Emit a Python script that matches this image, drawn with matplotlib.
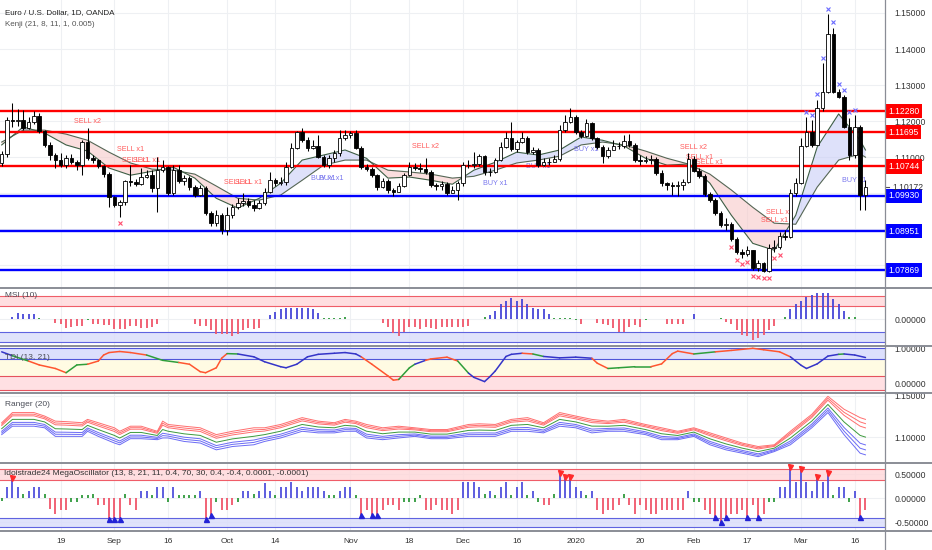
import matplotlib
matplotlib.use("Agg")
import matplotlib.pyplot as plt
import matplotlib.transforms as mtransforms
from matplotlib.lines import Line2D
import numpy as np
import pandas as pd

plt.rcParams["font.family"] = ["Liberation Sans", "DejaVu Sans"]

# ---------------- data (EUR/USD daily) ----------------
first_open = 1.1084
close = [
    1.1109, 1.1203, 1.1200, 1.1203, 1.1181, 1.1197, 1.1214, 1.1172, 1.1134, 1.1106,
    1.1092, 1.1078, 1.1097, 1.1086, 1.1078, 1.1142, 1.1097, 1.1092, 1.1075, 1.1053,
    1.0989, 1.0967, 1.0975, 1.1034, 1.1031, 1.1025, 1.1045, 1.1050, 1.1014, 1.1064,
    1.1072, 1.1000, 1.1064, 1.1034, 1.1042, 1.1017, 1.0995, 1.1014, 1.0945, 1.0917,
    1.0939, 1.0897, 1.0939, 1.0961, 1.0972, 1.0978, 1.0967, 1.0959, 1.0972, 1.1003,
    1.1036, 1.1028, 1.1031, 1.1072, 1.1125, 1.1170, 1.1147, 1.1125, 1.1131, 1.1100,
    1.1078, 1.1097, 1.1111, 1.1153, 1.1161, 1.1167, 1.1125, 1.1072, 1.1067, 1.1050,
    1.1017, 1.1034, 1.1009, 1.1003, 1.1020, 1.1050, 1.1072, 1.1070, 1.1067, 1.1059,
    1.1022, 1.1020, 1.1025, 1.1000, 1.1009, 1.1028, 1.1078, 1.1078, 1.1081, 1.1103,
    1.1059, 1.1059, 1.1092, 1.1128, 1.1153, 1.1122, 1.1142, 1.1153, 1.1114, 1.1120,
    1.1078, 1.1086, 1.1086, 1.1095, 1.1175, 1.1197, 1.1211, 1.1170, 1.1159, 1.1195,
    1.1153, 1.1128, 1.1103, 1.1120, 1.1131, 1.1131, 1.1145, 1.1134, 1.1092, 1.1089,
    1.1092, 1.1095, 1.1056, 1.1028, 1.1022, 1.1020, 1.1022, 1.1031, 1.1095, 1.1061,
    1.1047, 1.0997, 1.0981, 1.0945, 1.0911, 1.0914, 1.0872, 1.0836, 1.0831, 1.0842,
    1.0792, 1.0806, 1.0784, 1.0847, 1.0850, 1.0881, 1.0878, 1.1000, 1.1028, 1.1131,
    1.1170, 1.1134, 1.1236, 1.1281, 1.1442, 1.1281, 1.1267, 1.1184, 1.1106, 1.1184,
    1.0995, 1.1017,
]
high = [
    1.1117, 1.1211, 1.1250, 1.1234, 1.1231, 1.1211, 1.1228, 1.1222, 1.1175, 1.1142,
    1.1111, 1.1111, 1.1106, 1.1109, 1.1092, 1.1147, 1.1181, 1.1106, 1.1095, 1.1078,
    1.1059, 1.0992, 1.0981, 1.1036, 1.1078, 1.1039, 1.1070, 1.1064, 1.1064, 1.1100,
    1.1092, 1.1075, 1.1078, 1.1078, 1.1050, 1.1047, 1.1022, 1.1022, 1.1020, 1.0950,
    1.0953, 1.0945, 1.0961, 1.0970, 1.0986, 1.1000, 1.0986, 1.0981, 1.0981, 1.1014,
    1.1059, 1.1042, 1.1045, 1.1086, 1.1139, 1.1172, 1.1181, 1.1156, 1.1147, 1.1161,
    1.1106, 1.1106, 1.1120, 1.1175, 1.1175, 1.1172, 1.1175, 1.1131, 1.1081, 1.1072,
    1.1053, 1.1042, 1.1039, 1.1014, 1.1028, 1.1056, 1.1086, 1.1084, 1.1084, 1.1097,
    1.1064, 1.1028, 1.1034, 1.1031, 1.1020, 1.1034, 1.1086, 1.1092, 1.1114, 1.1109,
    1.1106, 1.1070, 1.1097, 1.1142, 1.1170, 1.1197, 1.1147, 1.1170, 1.1159, 1.1128,
    1.1125, 1.1097, 1.1097, 1.1106, 1.1189, 1.1217, 1.1236, 1.1217, 1.1175, 1.1206,
    1.1197, 1.1156, 1.1134, 1.1128, 1.1147, 1.1142, 1.1161, 1.1164, 1.1139, 1.1106,
    1.1103, 1.1106, 1.1100, 1.1064, 1.1031, 1.1031, 1.1034, 1.1039, 1.1111, 1.1103,
    1.1070, 1.1053, 1.1003, 1.0986, 1.0950, 1.0931, 1.0920, 1.0878, 1.0845, 1.0853,
    1.0842, 1.0814, 1.0808, 1.0859, 1.0870, 1.0892, 1.0897, 1.1011, 1.1042, 1.1153,
    1.1211, 1.1203, 1.1259, 1.1361, 1.1497, 1.1459, 1.1289, 1.1272, 1.1209, 1.1217,
    1.1189, 1.1036,
]
low = [
    1.1075, 1.1100, 1.1184, 1.1186, 1.1175, 1.1178, 1.1192, 1.1167, 1.1128, 1.1092,
    1.1070, 1.1072, 1.1070, 1.1081, 1.1064, 1.1050, 1.1092, 1.1084, 1.1070, 1.1045,
    1.0961, 1.0961, 1.0933, 1.0967, 1.1020, 1.1020, 1.1022, 1.1042, 1.1003, 1.0947,
    1.1059, 1.0995, 1.0995, 1.1028, 1.1022, 1.1009, 1.0989, 1.0992, 1.0939, 1.0909,
    1.0909, 1.0886, 1.0884, 1.0931, 1.0956, 1.0964, 1.0961, 1.0950, 1.0956, 1.0967,
    1.1000, 1.1020, 1.1022, 1.1022, 1.1070, 1.1122, 1.1142, 1.1117, 1.1122, 1.1097,
    1.1072, 1.1070, 1.1086, 1.1103, 1.1147, 1.1153, 1.1122, 1.1067, 1.1061, 1.1045,
    1.1009, 1.1014, 1.1000, 1.0992, 1.1003, 1.1017, 1.1047, 1.1064, 1.1059, 1.1053,
    1.1017, 1.1009, 1.1009, 1.0995, 1.1000, 1.0981, 1.1020, 1.1070, 1.1070, 1.1075,
    1.1050, 1.1047, 1.1056, 1.1089, 1.1125, 1.1117, 1.1114, 1.1139, 1.1109, 1.1109,
    1.1072, 1.1075, 1.1078, 1.1086, 1.1089, 1.1170, 1.1195, 1.1164, 1.1153, 1.1156,
    1.1147, 1.1122, 1.1084, 1.1097, 1.1122, 1.1122, 1.1125, 1.1128, 1.1086, 1.1078,
    1.1084, 1.1081, 1.1050, 1.1020, 1.1009, 1.0995, 1.0992, 1.1009, 1.1028, 1.1059,
    1.1042, 1.0992, 1.0975, 1.0939, 1.0906, 1.0897, 1.0867, 1.0831, 1.0820, 1.0825,
    1.0786, 1.0784, 1.0781, 1.0781, 1.0836, 1.0845, 1.0870, 1.0875, 1.0992, 1.1025,
    1.1128, 1.1128, 1.1170, 1.1228, 1.1278, 1.1278, 1.1264, 1.1181, 1.1092, 1.1097,
    1.0953, 1.0953,
]
last_price = 1.10172

resist_levels = [1.12280, 1.11695, 1.10744]
support_levels = [1.09930, 1.08951, 1.07869]
price_ticks = [1.11, 1.12, 1.13, 1.14, 1.15]

# Kenji bands
kenji_bar = [0, 4, 8, 12, 16, 20, 24, 28, 32, 36, 40, 44, 48, 52, 56, 60, 64, 68, 72, 76, 80,
             84, 88, 92, 96, 100, 104, 108, 112, 116, 120, 124, 128, 132, 136, 140, 144, 148,
             152, 156, 160, 161]
kenji_slow = [1.1142, 1.1175, 1.1175, 1.1164, 1.1147, 1.1114, 1.1084, 1.1067, 1.1064, 1.1053,
              1.1020, 1.0986, 1.0981, 1.0995, 1.1036, 1.1078, 1.1092, 1.1092, 1.1064, 1.1059,
              1.1053, 1.1042, 1.1047, 1.1064, 1.1084, 1.1092, 1.1103, 1.1134, 1.1142, 1.1134,
              1.1117, 1.1097, 1.1081, 1.1053, 1.1009, 1.0961, 1.0917, 1.0914, 1.1017, 1.1092,
              1.1109, 1.1100]
kenji_fast = [1.1134, 1.1184, 1.1167, 1.1134, 1.1117, 1.1070, 1.1050, 1.1061, 1.1072, 1.1042,
              1.0986, 1.0959, 1.0986, 1.1028, 1.1092, 1.1106, 1.1120, 1.1097, 1.1042, 1.1045,
              1.1036, 1.1025, 1.1064, 1.1086, 1.1114, 1.1106, 1.1120, 1.1156, 1.1147, 1.1131,
              1.1097, 1.1078, 1.1081, 1.1028, 1.0939, 1.0861, 1.0842, 1.0939, 1.1128, 1.1220,
              1.1147, 1.1120]

# signal labels: (bar, price, text)
sell_labels = [(16, 1.1200, "SELL x2"), (24, 1.1122, "SELL x1"), (25, 1.1092, "SELL x1"),
               (27, 1.1092, "SELL x1"), (44, 1.1031, "SELL x1"), (46, 1.1031, "SELL x1"),
               (79, 1.1131, "SELL x2"), (129, 1.1128, "SELL x2"), (130, 1.1100, "SELL x1"),
               (132, 1.1084, "SELL x1"), (145, 1.0947, "SELL x1"), (144, 1.0925, "SELL x1")]
buy_labels = [(60, 1.1042, "BUY x1"), (61.5, 1.1042, "BUY x1"), (92, 1.1028, "BUY x1"),
              (100, 1.1075, "BUY x1"), (109, 1.1122, "BUY x1"), (159, 1.1036, "BUY x1")]
low_mark_bars = [22, 136, 137, 138, 139, 140, 141, 142, 143, 144, 145]
high_mark_bars = [150, 151, 152, 153, 154, 155, 156, 157, 158, 159]

# MSI (10)
msi = [
    0.02, 0.02, 0.12, 0.26, 0.22, 0.22, 0.22, 0.04, 0, 0,
    -0.17, -0.22, -0.39, -0.32, -0.28, -0.28, -0.03, -0.22, -0.22, -0.25,
    -0.25, -0.42, -0.42, -0.42, -0.28, -0.28, -0.39, -0.39, -0.32, -0.22,
    0, 0, 0, 0.03, 0.03, 0.03, -0.22, -0.28, -0.28, -0.46,
    -0.65, -0.65, -0.65, -0.71, -0.65, -0.46, -0.36, -0.42, -0.36, 0,
    0.19, 0.30, 0.45, 0.48, 0.48, 0.48, 0.48, 0.48, 0.45, 0.26,
    0.04, 0.04, 0.04, 0.04, 0.09, 0, 0.03, 0.03, 0, 0.03,
    0.03, -0.17, -0.32, -0.61, -0.75, -0.54, -0.32, -0.32, -0.43, -0.32,
    -0.39, -0.42, -0.32, -0.32, -0.32, -0.32, -0.32, -0.28, 0, 0,
    0.08, 0.19, 0.36, 0.65, 0.80, 0.91, 0.80, 0.87, 0.65, 0.48,
    0.43, 0.43, 0.22, 0.07, 0.05, 0.05, 0.06, -0.05, -0.22, 0,
    0.02, -0.17, -0.22, -0.25, -0.36, -0.54, -0.54, -0.32, -0.25, -0.32,
    -0.03, 0.03, 0, 0.02, -0.22, -0.22, -0.22, -0.22, 0, 0.22,
    0, 0, 0.03, 0.03, 0.04, -0.12, -0.22, -0.46, -0.68, -0.75,
    -0.90, -0.83, -0.68, -0.46, -0.28, 0, 0.09, 0.43, 0.65, 0.80,
    0.99, 1.06, 1.13, 1.13, 1.13, 0.87, 0.65, 0.36, 0.09, 0.09,
    0, 0,
]

# TDI (13, 21): points along the line and the colour of the segment that starts there
tdi_bar = [0, 2, 5, 7, 10, 12, 14, 16, 18, 19, 20, 22, 24, 27, 30, 33, 35, 37, 38, 40,
           41, 42, 44, 47, 49, 52, 53, 55, 57, 59, 62, 64, 66, 67, 69, 72, 73, 74, 76, 77,
           79, 80, 83, 85, 87, 88, 90, 91, 92, 94, 95, 97, 99, 101, 104, 107, 110, 111, 113, 115,
           118, 121, 123, 125, 126, 129, 133, 136, 140, 142, 145, 147, 149, 150, 152, 154, 156, 157, 159, 161]
tdi_val = [0.90, 0.79, 0.64, 0.53, 0.43, 0.31, 0.53, 0.55, 0.64, 0.81, 0.88, 0.91, 0.88, 0.81, 0.66,
           0.60, 0.55, 0.34, 0.31, 0.45, 0.72, 0.85, 0.84, 0.76, 0.62, 0.48, 0.45, 0.55, 0.76, 0.83,
           0.86, 0.88, 0.84, 0.76, 0.55, 0.22, 0.10, 0.12, 0.45, 0.55, 0.66, 0.70, 0.75, 0.64, 0.30,
           0.18, 0.06, 0.20, 0.36, 0.77, 0.83, 0.86, 0.84, 0.77, 0.73, 0.75, 0.72, 0.58, 0.43, 0.45,
           0.48, 0.48, 0.56, 0.85, 0.92, 0.84, 0.90, 0.94, 1.00, 0.96, 0.90, 0.76, 0.52, 0.43, 0.56,
           0.78, 0.83, 0.84, 0.81, 0.74]
tdi_col = "bgrrrggrrrrrrggrrrrrrgbbbbbbbbbbbrrrrggbrrrgbbbbbbbrgbbbrrgggrrrrgrrrrrbbbbbgbbb"

# Ranger (20): outer envelope of the line bundle
ranger_bar = [0, 2, 6, 8, 10, 12, 15, 16, 18, 21, 22, 24, 26, 29, 30, 31, 34, 37, 40, 43,
              47, 49, 52, 56, 59, 62, 64, 66, 68, 71, 74, 77, 80, 83, 87, 89, 92, 95, 98, 101,
              104, 107, 110, 113, 116, 120, 123, 126, 129, 132, 135, 138, 141, 144, 147, 151, 154, 157, 160, 161]
ranger_top = [1.1176, 1.1298, 1.1298, 1.1256, 1.1195, 1.1189, 1.1176, 1.1216, 1.1176, 1.1115,
              1.1073, 1.1134, 1.1134, 1.1073, 1.1195, 1.1155, 1.1134, 1.1115, 1.1033, 1.1073,
              1.1115, 1.1115, 1.1155, 1.1237, 1.1195, 1.1176, 1.1216, 1.1195, 1.1155, 1.1115,
              1.1134, 1.1115, 1.1094, 1.1094, 1.1155, 1.1163, 1.1155, 1.1216, 1.1237, 1.1176,
              1.1298, 1.1256, 1.1216, 1.1195, 1.1216, 1.1155, 1.1115, 1.1073, 1.1115, 1.1054,
              1.0993, 1.0932, 1.0890, 1.0911, 1.1073, 1.1277, 1.1493, 1.1338, 1.1237, 1.1216]
ranger_bot = [1.1033, 1.1134, 1.1134, 1.1115, 1.1012, 1.1012, 1.1012, 1.1073, 1.1012, 1.0932,
              1.0911, 1.0984, 1.0984, 1.0972, 1.0993, 1.0993, 1.0951, 1.0932, 1.0850, 1.0890,
              1.0911, 1.0951, 1.0993, 1.1073, 1.1054, 1.1054, 1.1073, 1.1073, 1.0993, 1.0972,
              1.0993, 1.1012, 1.0984, 1.0984, 1.1012, 1.1012, 1.1012, 1.1073, 1.1073, 1.1054,
              1.1134, 1.1115, 1.1054, 1.1073, 1.1073, 1.1033, 1.0972, 1.0972, 1.1012, 1.0911,
              1.0850, 1.0810, 1.0768, 1.0829, 1.0911, 1.1115, 1.1298, 1.1033, 1.0810, 1.0790]

# MegaOscillator
mega = [
    -0.06, 0.24, 0.42, 0.24, 0.09, 0.16, 0.24, 0.24, 0.09, -0.23,
    -0.33, -0.24, -0.24, -0.07, -0.07, 0.07, 0.07, 0.09, -0.14, -0.14,
    -0.44, -0.44, -0.44, 0.09, -0.14, -0.24, 0.16, 0.16, 0.07, 0.24,
    0.24, -0.07, 0.24, 0.07, 0.07, 0.07, 0.07, 0.16, -0.44, -0.35,
    -0.07, -0.24, -0.24, -0.14, -0.07, 0.16, 0.16, 0.09, 0.16, 0.31,
    0.16, 0.07, 0.24, 0.24, 0.33, 0.24, 0.16, 0.24, 0.24, 0.24,
    0.16, 0.07, 0.07, 0.16, 0.24, 0.24, 0.07, -0.35, -0.24, -0.35,
    -0.35, -0.24, -0.14, -0.14, -0.24, -0.07, -0.07, -0.07, 0.07, -0.24,
    -0.24, -0.14, -0.24, -0.24, -0.33, -0.24, 0.33, 0.33, 0.33, 0.24,
    0.09, 0.16, 0.07, 0.24, 0.33, 0.07, 0.24, 0.33, 0.07, 0.16,
    -0.07, -0.14, -0.14, 0.09, 0.52, 0.45, 0.45, 0.24, 0.16, 0.07,
    0.16, -0.24, -0.33, -0.24, -0.24, -0.14, 0.09, -0.14, -0.33, -0.14,
    -0.24, -0.33, -0.33, -0.24, -0.24, -0.24, -0.24, -0.24, 0.16, -0.07,
    -0.07, -0.24, -0.33, -0.38, -0.49, -0.38, -0.33, -0.33, -0.24, -0.38,
    -0.14, -0.38, -0.33, -0.07, -0.07, 0.24, 0.24, 0.66, 0.33, 0.60,
    0.33, 0.16, 0.45, 0.33, 0.52, 0.07, 0.24, 0.24, -0.07, 0.16,
    -0.38, -0.24,
]
mega_sell_bars = [2, 104, 105, 106, 147, 149, 152, 154]
mega_buy_bars = [20, 21, 22, 38, 39, 67, 69, 70, 133, 134, 135, 139, 141, 160]

tick_dates = ["2019-08-19", "2019-09-02", "2019-09-16", "2019-10-01", "2019-10-14",
              "2019-11-01", "2019-11-18", "2019-12-02", "2019-12-16", "2020-01-02",
              "2020-01-20", "2020-02-03", "2020-02-17", "2020-03-02", "2020-03-16"]
tick_labels = ["19", "Sep", "16", "Oct", "14", "Nov", "18", "Dec", "16", "2020",
               "20", "Feb", "17", "Mar", "16"]

# ---------------- layout ----------------
W, H = 932, 550
AXW = 885
dates = pd.bdate_range("2019-08-02", "2020-03-18")
dates = dates[~dates.isin(pd.to_datetime(["2019-12-25", "2020-01-01"]))]
x = np.arange(len(close))
tick_pos = [dates.get_loc(pd.Timestamp(d)) for d in tick_dates]
xlim = (-0.317, 164.64)

GRID = "#eef0f3"
TXT = "#4a4d57"
RED = "#ff0000"
BLUE = "#0000ff"

fig = plt.figure(figsize=(W / 100, H / 100), dpi=100)


def pane(top, bottom):
    ax = fig.add_axes([0, 1 - bottom / H, AXW / W, (bottom - top) / H])
    ax.set_xlim(*xlim)
    for s in ax.spines.values():
        s.set_visible(False)
    ax.set_xticks(tick_pos)
    ax.tick_params(axis="x", length=0, labelbottom=False)
    ax.yaxis.tick_right()
    ax.tick_params(axis="y", length=0, pad=7, labelsize=6.2, labelcolor="#333333")
    for t in tick_pos:
        ax.axvline(t, color=GRID, lw=0.8, zorder=0)
    return ax


def fmt(ax, ticks):
    ax.set_yticks(ticks)
    ax.set_yticklabels([f"{t:.5f}" for t in ticks])
    for t in ticks:
        ax.axhline(t, color=GRID, lw=0.8, zorder=0)


def hist_colors(vals, pos, neg, mid):
    return [mid if abs(v) < 0.1 else (pos if v > 0 else neg) for v in vals]


# ---------------- main price pane ----------------
ax = pane(0, 287)
ax.set_ylim(1.0740, 1.1536)
fmt(ax, price_ticks)
for t in [1.08, 1.09, 1.10]:
    ax.axhline(t, color=GRID, lw=0.8, zorder=0)

c = np.array(close)
o = np.array([first_open] + close[:-1])
hi = np.maximum(np.array(high), np.maximum(o, c))
lo = np.minimum(np.array(low), np.minimum(o, c))

kb = np.array(kenji_bar)
ks = np.array(kenji_slow)
kf = np.array(kenji_fast)
ax.fill_between(kb, ks, kf, where=kf >= ks, interpolate=True, color="#c9cdf7", alpha=0.6, lw=0, zorder=1)
ax.fill_between(kb, ks, kf, where=kf < ks, interpolate=True, color="#f7c9c9", alpha=0.6, lw=0, zorder=1)
ax.plot(kb, ks, color="#556655", lw=0.8, zorder=2)
ax.plot(kb, kf, color="#3e5e45", lw=0.8, zorder=2)

for lv in resist_levels:
    ax.axhline(lv, color=RED, lw=1.7, zorder=3)
for lv in support_levels:
    ax.axhline(lv, color=BLUE, lw=1.7, zorder=3)

for b, p, t in sell_labels:
    ax.text(b, p, t, color="#ff5a5a", fontsize=5.2, ha="center", va="center", zorder=2)
for b, p, t in buy_labels:
    ax.text(b, p, t, color="#7a78ee", fontsize=5.2, ha="center", va="center", zorder=2)
ax.plot(low_mark_bars, lo[low_mark_bars] - 0.0015, "x", color="#ff4d6d", ms=2.2, mew=0.8, zorder=4)
ax.plot(high_mark_bars, hi[high_mark_bars] + 0.0015, "x", color="#6a6aff", ms=2.2, mew=0.8, zorder=4)

ax.vlines(x, lo, hi, color="black", lw=0.75, zorder=5)
body_lo = np.minimum(o, c)
body_h = np.maximum(np.abs(c - o), 0.00009)
face = ["white" if cc >= oo else "black" for oo, cc in zip(o, c)]
ax.bar(x, body_h, bottom=body_lo, width=0.66, color=face, edgecolor="black", lw=0.6, zorder=6)

ax.text(0.006, 0.958, "Euro / U.S. Dollar, 1D, OANDA", transform=ax.transAxes, fontsize=5.8,
        color="#222222", va="center")
ax.text(0.006, 0.916, "Kenji (21, 8, 11, 1, 0.005)", transform=ax.transAxes, fontsize=5.8,
        color="#555555", va="center")

tr = mtransforms.blended_transform_factory(ax.transAxes, ax.transData)
for lv, col in [(v, RED) for v in resist_levels] + [(v, BLUE) for v in support_levels]:
    ax.text(1.004, lv, f"{lv:.5f}", transform=tr, fontsize=6.2, color="white", va="center",
            ha="left", clip_on=False,
            bbox=dict(boxstyle="square,pad=0.3", fc=col, ec="none"))
ax.text(1.008, last_price, f"{last_price:.5f}", transform=tr, fontsize=6.2, color="#333333",
        va="center", ha="left", clip_on=False)
ax.plot([1.001, 1.005], [last_price, last_price], transform=tr, color="#555555", lw=0.8,
        clip_on=False)

# ---------------- MSI pane ----------------
ax = pane(288, 345)
ax.set_ylim(-1.12, 1.36)
fmt(ax, [0.0])
ax.axhspan(0.59, 1.01, color="#ffd6d9", alpha=0.8, lw=0, zorder=0.5)
ax.axhspan(-0.97, -0.54, color="#d9dcfb", alpha=0.8, lw=0, zorder=0.5)
for lv in [0.59, 1.01]:
    ax.axhline(lv, color="#ef5d68", lw=0.8, zorder=1)
for lv in [-0.54, -0.97]:
    ax.axhline(lv, color="#5f63e0", lw=0.8, zorder=1)
ax.vlines(x, 0, msi, colors=hist_colors(msi, "#4646d8", "#f0566a", "#2f9a3c"), lw=1.3, zorder=3)
ax.text(0.006, 0.86, "MSI (10)", transform=ax.transAxes, fontsize=6, color=TXT, va="center")

# ---------------- TDI pane ----------------
ax = pane(346, 392)
ax.set_ylim(-0.234, 1.065)
fmt(ax, [0.0, 1.0])
ax.axhspan(0.70, 1.00, color="#dcdffc", lw=0, zorder=0.5)
ax.axhspan(0.23, 0.70, color="#fffbe3", lw=0, zorder=0.5)
ax.axhspan(-0.19, 0.23, color="#ffe0e3", lw=0, zorder=0.5)
for lv in [0.70, 1.00]:
    ax.axhline(lv, color="#5055d8", lw=0.8, zorder=1)
for lv in [0.23, -0.19]:
    ax.axhline(lv, color="#e5525e", lw=0.8, zorder=1)
cmap = {"b": "#3434c8", "r": "#ff5530", "g": "#2e9e3a"}
for i in range(len(tdi_bar) - 1):
    ax.plot(tdi_bar[i:i + 2], tdi_val[i:i + 2], color=cmap[tdi_col[i]], lw=1.1,
            solid_capstyle="round", zorder=3)
ax.text(0.006, 0.74, "TDI (13, 21)", transform=ax.transAxes, fontsize=6, color=TXT, va="center")

# ---------------- Ranger pane ----------------
ax = pane(393, 462)
ax.set_ylim(1.0704, 1.1533)
fmt(ax, [1.10, 1.15])
rt = np.array(ranger_top)
rb = np.array(ranger_bot)
for f in [0.0, 0.12, 0.24]:
    ax.plot(ranger_bar, rt - f * (rt - rb), color="#ff6e6e", lw=0.7, zorder=2)
for f in [0.72, 0.86, 1.0]:
    ax.plot(ranger_bar, rt - f * (rt - rb), color="#6b6bf5", lw=0.7, zorder=2)
ax.plot(ranger_bar, rt - 0.5 * (rt - rb), color="#3c9a3c", lw=0.7, zorder=3)
ax.text(0.006, 0.83, "Ranger (20)", transform=ax.transAxes, fontsize=6, color=TXT, va="center")

# ---------------- MegaOscillator pane ----------------
ax = pane(463, 530)
ax.set_ylim(-0.66, 0.735)
fmt(ax, [-0.5, 0.0, 0.5])
ax.axhspan(0.39, 0.60, color="#ffd6d9", alpha=0.8, lw=0, zorder=0.5)
ax.axhspan(-0.59, -0.40, color="#d9dcfb", alpha=0.8, lw=0, zorder=0.5)
for lv in [0.39, 0.60]:
    ax.axhline(lv, color="#ef5d68", lw=0.8, zorder=1)
for lv in [-0.40, -0.59]:
    ax.axhline(lv, color="#5f63e0", lw=0.8, zorder=1)
ax.vlines(x, 0, mega, colors=hist_colors(mega, "#5050dc", "#f0566a", "#2f9a3c"), lw=1.3, zorder=3)
mg = np.array(mega)
ax.plot(mega_sell_bars, mg[mega_sell_bars], "v", color="#ff2a2a", ms=3.6, zorder=4)
ax.plot(mega_buy_bars, mg[mega_buy_bars], "^", color="#2323d6", ms=3.6, zorder=4)
ax.text(0.004, 0.84, "Idoistrade24 MegaOscillator (13, 8, 21, 11, 0.4, 70, 30, 0.4, -0.4, 0.0001, -0.0001)",
        transform=ax.transAxes, fontsize=6, color="#333333", va="center")
ax.tick_params(axis="x", labelbottom=True, labelsize=6, labelcolor="#333333", pad=6)
ax.set_xticklabels(tick_labels)

# pane separators and price-axis border
for yy in [287.5, 345.5, 392.5, 462.5, 530.5]:
    fig.add_artist(Line2D([0, 1], [1 - yy / H] * 2, color="#8a8d96", lw=1.4))
fig.add_artist(Line2D([AXW / W] * 2, [0, 1], color="#8a8d96", lw=0.9))

fig.savefig("out.png", dpi=100, facecolor="white")
